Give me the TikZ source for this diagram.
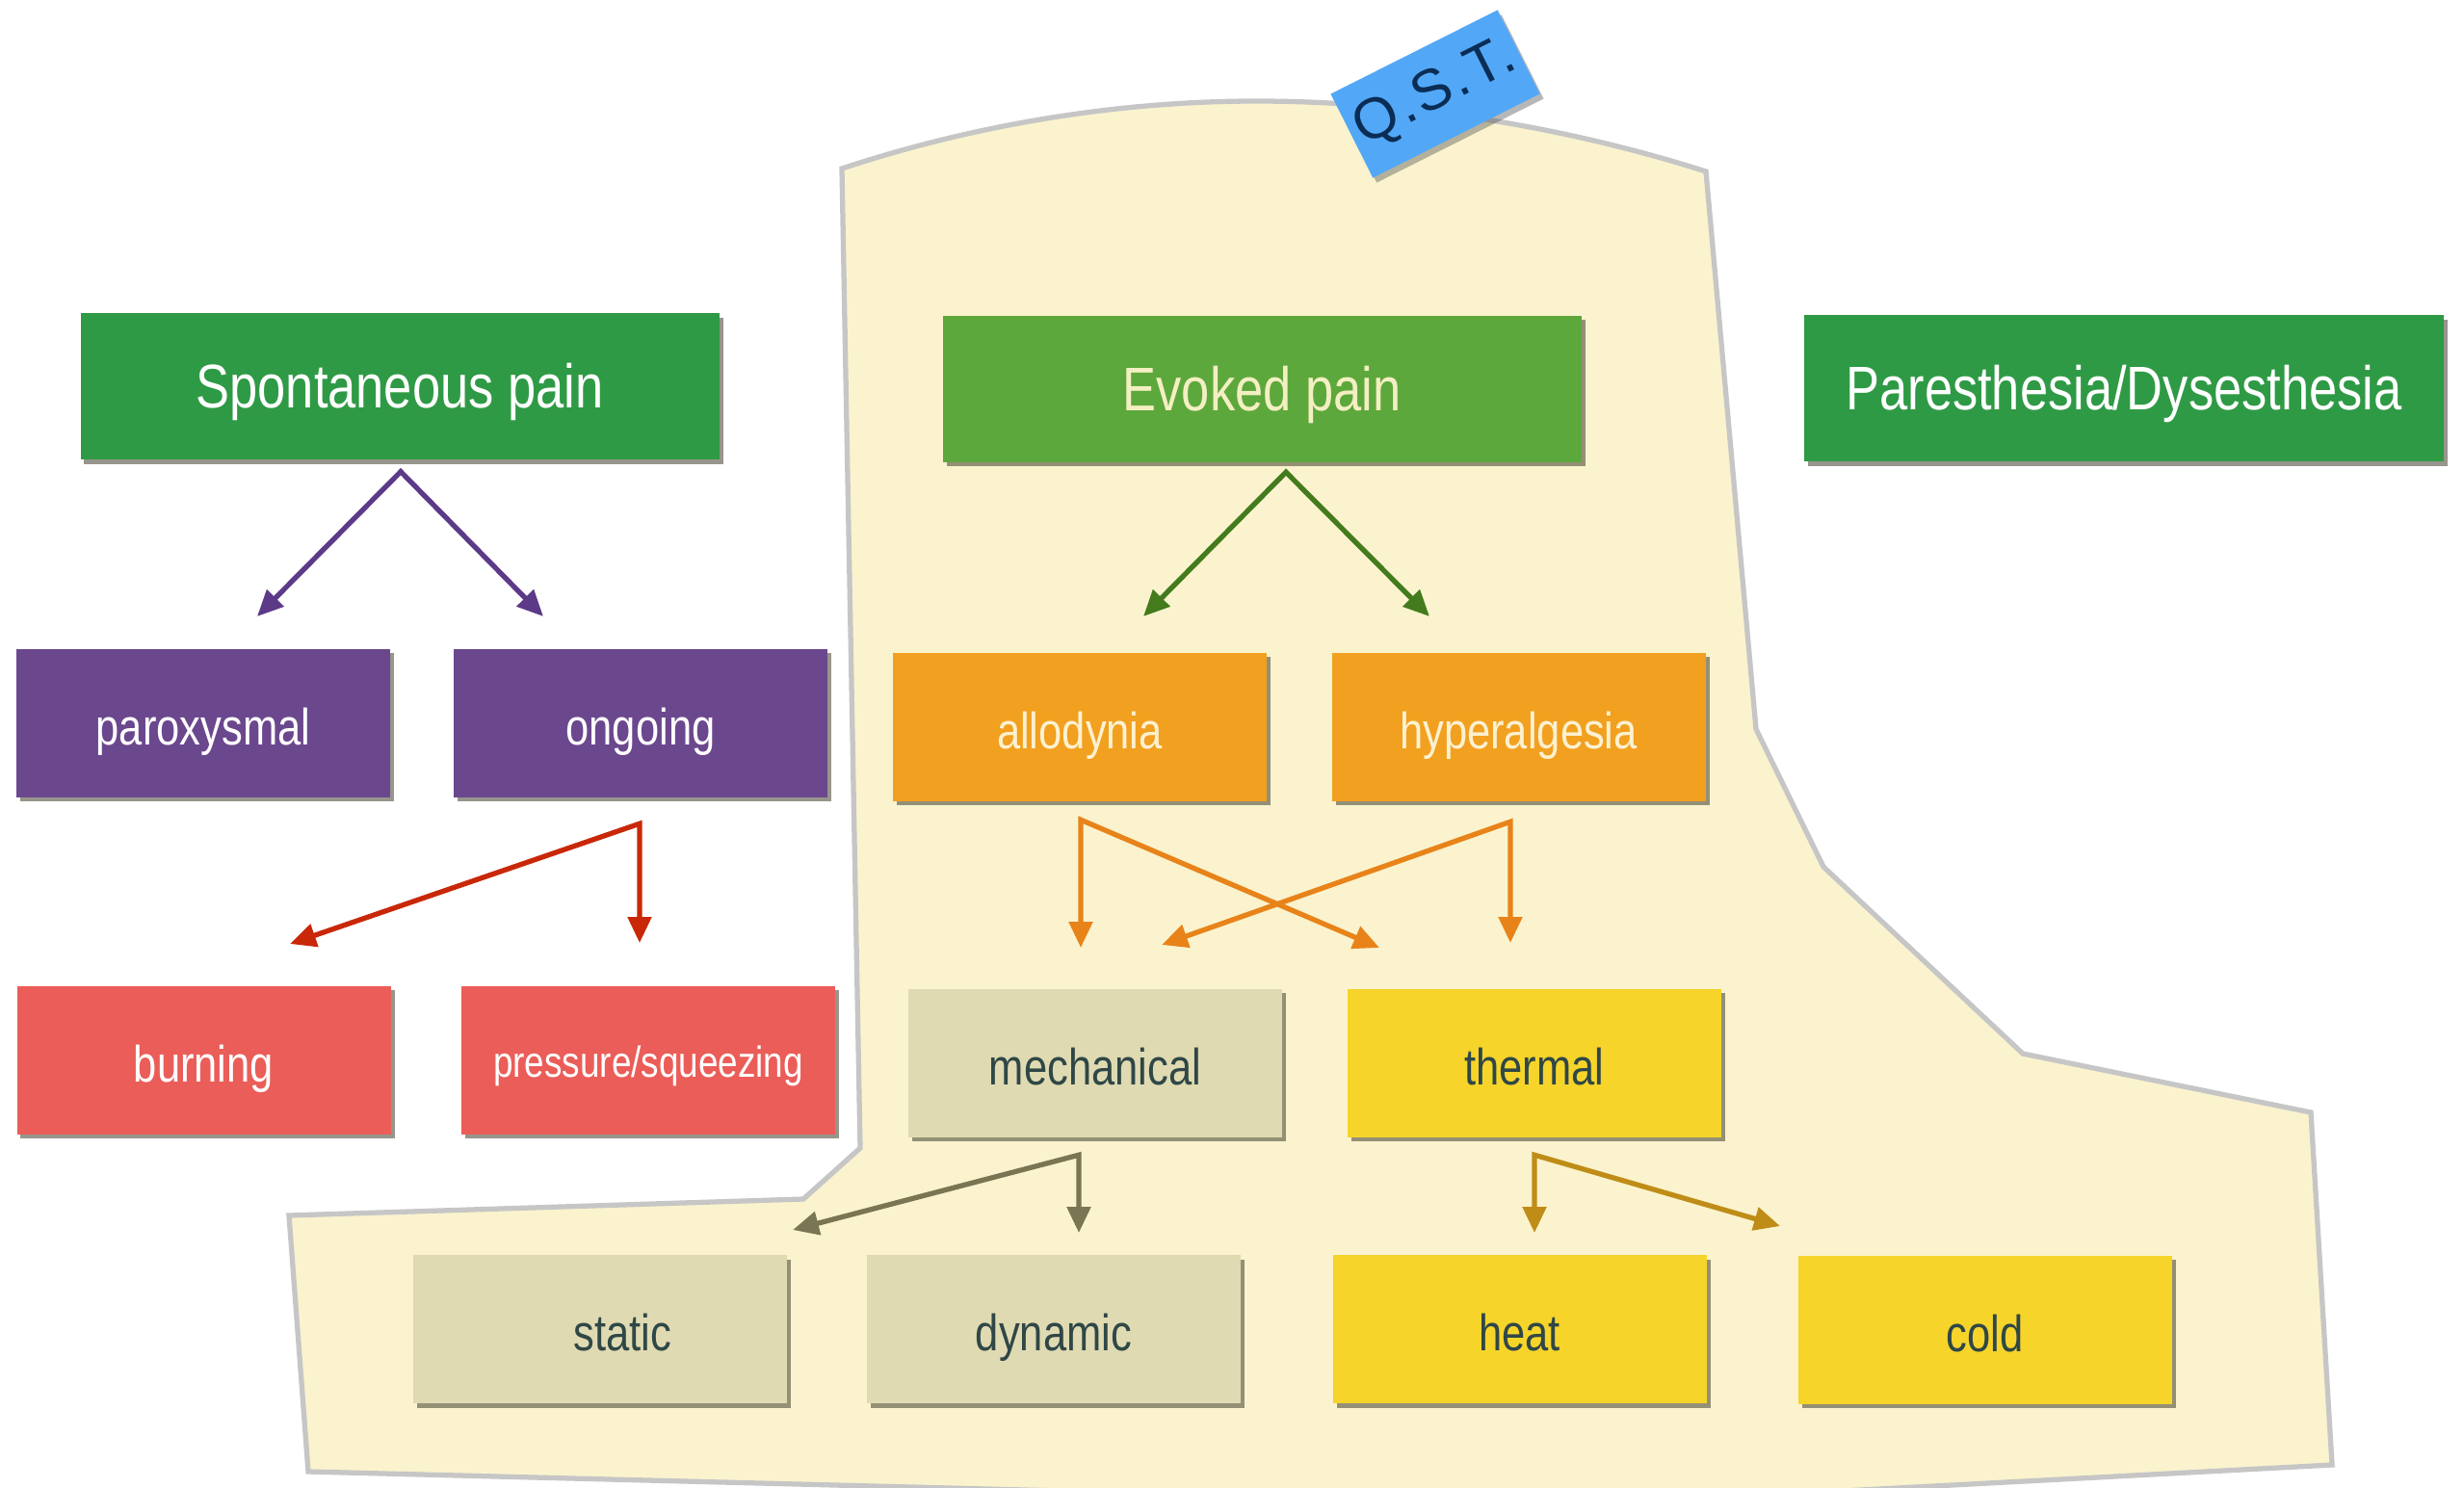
\documentclass[tikz,border=0pt]{standalone}
\usepackage{fontspec}
\setmainfont{Liberation Sans}
\newfontfamily\narrowfont{Liberation Sans}[FakeStretch=0.82]
\newfontfamily\tagfont{Liberation Sans}[LetterSpace=5]
\usetikzlibrary{arrows.meta,shadows,calc}

% palette
\definecolor{zonefill}{HTML}{FAF3CE}
\definecolor{zoneline}{HTML}{C6C6C6}
\definecolor{greenA}{HTML}{2F9A45}
\definecolor{greenB}{HTML}{5DA83C}
\definecolor{violet}{HTML}{6B478D}
\definecolor{amber}{HTML}{F2A01F}
\definecolor{coral}{HTML}{EB5D58}
\definecolor{sand}{HTML}{E0DAB2}
\definecolor{lemon}{HTML}{F6D42A}
\definecolor{sky}{HTML}{52A8F7}
\definecolor{navy}{HTML}{0B2D55}
\definecolor{slate}{HTML}{2F4746}
\definecolor{paletext}{HTML}{F4EFC2}
\definecolor{amberText}{HTML}{FCF1D0}
\definecolor{arrViolet}{HTML}{5C3A88}
\definecolor{arrGreen}{HTML}{437B1D}
\definecolor{arrRed}{HTML}{C92808}
\definecolor{arrAmber}{HTML}{E8831A}
\definecolor{arrOlive}{HTML}{7A7552}
\definecolor{arrGold}{HTML}{BF8D17}

\tikzset{
  card/.style={rectangle, inner sep=0pt, text height=0.45cm, text depth=0pt,
    font=\narrowfont\fontsize{15.1}{17}\selectfont,
    drop shadow={shadow xshift=0.04cm, shadow yshift=-0.045cm, opacity=0.55, fill=black!70!olive}},
  bigcard/.style={card, minimum width=6.63cm, minimum height=1.52cm,
    font=\narrowfont\fontsize{18.2}{20}\selectfont},
  smallcard/.style={card, minimum width=3.88cm, minimum height=1.54cm},
  headgreen/.style={bigcard, fill=greenA, text=white},
  headlight/.style={bigcard, fill=greenB, text=paletext},
  violetcard/.style={smallcard, fill=violet, text=white},
  coralcard/.style={smallcard, fill=coral, text=white},
  ambercard/.style={smallcard, fill=amber, text=amberText},
  sandcard/.style={smallcard, fill=sand, text=slate},
  lemoncard/.style={smallcard, fill=lemon, text=slate},
  conn/.style={line width=1.5pt, line join=miter,
    {Triangle[length=0.27cm,width=0.24cm]}-{Triangle[length=0.27cm,width=0.24cm]}},
}

\begin{document}
\begin{tikzpicture}
\path[use as bounding box] (0,0) rectangle (25.58,-15.44);
\clip (0,0) rectangle (25.58,-15.44);
\fill[white] (0,0) rectangle (25.58,-15.44);

% testing zone outline
\draw[fill=zonefill, draw=zoneline, line width=1.5pt, line join=miter]
  (8.74,-1.75) parabola bend (13.04,-1.05) (17.71,-1.78)
  -- (18.23,-7.57) -- (18.93,-9.00) -- (21.00,-10.94) -- (23.99,-11.55)
  -- (24.21,-15.21) -- (16.50,-15.62) -- (3.20,-15.28) -- (3.00,-12.62)
  -- (8.34,-12.45) -- (8.93,-11.92) -- cycle;

% headings
\node[headgreen] (spont) at (4.15,-4.01) {Spontaneous pain};
\node[headlight] (evoked) at (13.10,-4.035) {Evoked pain};
\node[headgreen, minimum width=6.64cm] (pares) at (22.05,-4.03) {Paresthesia/Dysesthesia};

% second row
\node[violetcard] (parox) at (2.11,-7.505) {paroxysmal};
\node[violetcard] (ongoing) at (6.65,-7.505) {ongoing};
\node[ambercard] (allo) at (11.21,-7.545) {allodynia};
\node[ambercard] (hyper) at (15.765,-7.545) {hyperalgesia};

% third row
\node[coralcard] (burning) at (2.115,-11.005) {burning};
\node[coralcard, text height=0.36cm, font=\narrowfont\fontsize{12.8}{14}\selectfont] (press) at (6.73,-11.005) {pressure/squeezing};
\node[sandcard] (mech) at (11.37,-11.035) {mechanical};
\node[lemoncard] (therm) at (15.93,-11.035) {thermal};

% bottom row
\node[sandcard] (static) at (6.225,-13.80) {\hspace*{0.48cm}static};
\node[sandcard] (dynamic) at (10.94,-13.80) {dynamic};
\node[lemoncard] (heat) at (15.775,-13.80) {heat};
\node[lemoncard] (cold) at (20.605,-13.805) {cold};

% connector ends
\coordinate (sA) at ($(spont.south)+(0.01,-0.12)$);
\coordinate (sL) at (2.67,-6.40);
\coordinate (sR) at (5.64,-6.40);
\coordinate (eA) at ($(evoked.south)+(0.25,-0.10)$);
\coordinate (eL) at (11.87,-6.40);
\coordinate (eR) at (14.84,-6.40);
\coordinate (oA) at ($(ongoing.south)+(-0.01,-0.27)$);
\coordinate (oL) at (3.01,-9.80);
\coordinate (oD) at (6.64,-9.79);
\coordinate (aA) at ($(allo.south)+(0.01,-0.19)$);
\coordinate (aD) at (11.22,-9.84);
\coordinate (aX) at (14.32,-9.84);
\coordinate (hA) at ($(hyper.south)+(-0.085,-0.21)$);
\coordinate (hD) at (15.68,-9.79);
\coordinate (hX) at (12.06,-9.81);
\coordinate (mA) at ($(mech.south)+(-0.17,-0.18)$);
\coordinate (mD) at (11.20,-12.80);
\coordinate (mL) at (8.23,-12.77);
\coordinate (tA) at ($(therm.south)+(0,-0.18)$);
\coordinate (tD) at (15.93,-12.80);
\coordinate (tR) at (18.48,-12.73);

% connectors
\draw[conn, arrViolet] (sL) -- (sA) -- (sR);
\draw[conn, arrGreen] (eL) -- (eA) -- (eR);
\draw[conn, arrRed] (oL) -- (oA) -- (oD);
\draw[conn, arrAmber] (aD) -- (aA) -- (aX);
\draw[conn, arrAmber] (hX) -- (hA) -- (hD);
\draw[conn, arrOlive] (mL) -- (mA) -- (mD);
\draw[conn, arrGold] (tD) -- (tA) -- (tR);

% tag
\node[rectangle, fill=sky, minimum width=1.94cm, minimum height=0.975cm, inner sep=0pt,
  rotate=26.7, text=navy, font=\tagfont\fontsize{17}{19}\selectfont,
  drop shadow={shadow xshift=0.04cm, shadow yshift=-0.05cm, opacity=0.4, fill=black!70}]
  (qst) at (14.90,-0.975) {Q.S.T.};
\end{tikzpicture}
\end{document}
